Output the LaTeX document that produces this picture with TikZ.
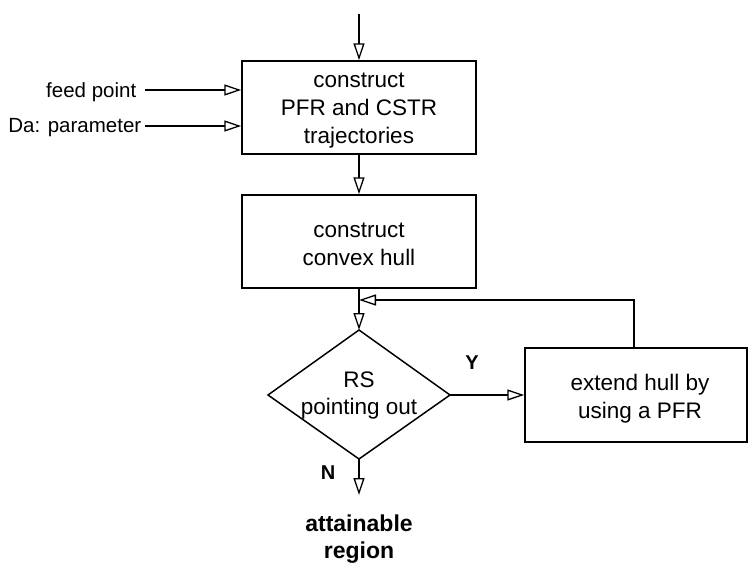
\documentclass[tikz,border=0pt]{standalone}
\usepackage{fontspec}
\setmainfont{Liberation Sans}
\usetikzlibrary{arrows.meta}
\begin{document}
\begin{tikzpicture}[x=1pt,y=-1pt,
  line width=1.5pt,
  arr/.style={-{Triangle[open,length=17pt,width=11pt,line width=1.3pt]}},
  procbox/.style={draw, line width=1.5pt, inner sep=0pt},
  boxtext/.style={align=center, inner sep=0pt, font=\fontsize{22.5}{28}\selectfont},
  lbl/.style={font=\fontsize{20.5}{24}\selectfont, inner sep=0pt},
  blbl/.style={font=\fontsize{20}{24}\bfseries\selectfont, inner sep=0pt}]
\useasboundingbox (0,0) rectangle (748,565);
% boxes
\node[procbox, minimum width=234pt, minimum height=93pt] (b1) at (359,107.5) {};
\node[boxtext] (t1) at (359,111) {construct\\PFR and CSTR\\trajectories};
\node[procbox, minimum width=234pt, minimum height=93pt] (b2) at (359,241.5) {};
\node[boxtext] (t2) at (359,244) {construct\\convex hull};
\node[procbox, minimum width=222pt, minimum height=94pt] (b3) at (636,395) {};
\node[boxtext] (t3) at (640,399) {extend hull by\\using a PFR};
% diamond
\coordinate (dt) at (359,330);
\coordinate (dl) at (268,395);
\coordinate (dr) at (450,395);
\coordinate (db) at (359,459);
\draw (dt) -- (dr) -- (db) -- (dl) -- cycle;
\node[align=center, inner sep=0pt, font=\fontsize{22.5}{27}\selectfont] (dtext) at (359,395) {RS\\pointing out};
% inputs
\coordinate (top) at (359,14);
\node[lbl, anchor=east] (fp) at (137,92) {feed point};
\node[lbl, anchor=east] (da) at (142,128) {Da: parameter};
\coordinate (fps) at (145,90);
\coordinate (das) at (145,126);
\draw[arr] (top) -- (b1.north);
\draw[arr] (fps) -- (fps -| b1.west);
\draw[arr] (das) -- (das -| b1.west);
\draw[arr] (b1.south) -- (b2.north);
\draw[arr] (b2.south) -- (dt);
% feedback
\coordinate (fbc) at (634,300);
\coordinate (fbt) at (359,300);
\draw[arr] (b3.north -| fbc) -- (fbc) -- (fbt);
% yes branch
\draw[arr] (dr) -- (b3.west);
\node[blbl] (y) at (472,363) {Y};
% no branch
\coordinate (nend) at (359,495);
\draw[arr] (db) -- (nend);
\node[blbl] (n) at (328,473) {N};
\node[align=center, inner sep=0pt, font=\fontsize{23}{27}\bfseries\selectfont] (out) at (359,539) {attainable\\region};
\end{tikzpicture}
\end{document}
